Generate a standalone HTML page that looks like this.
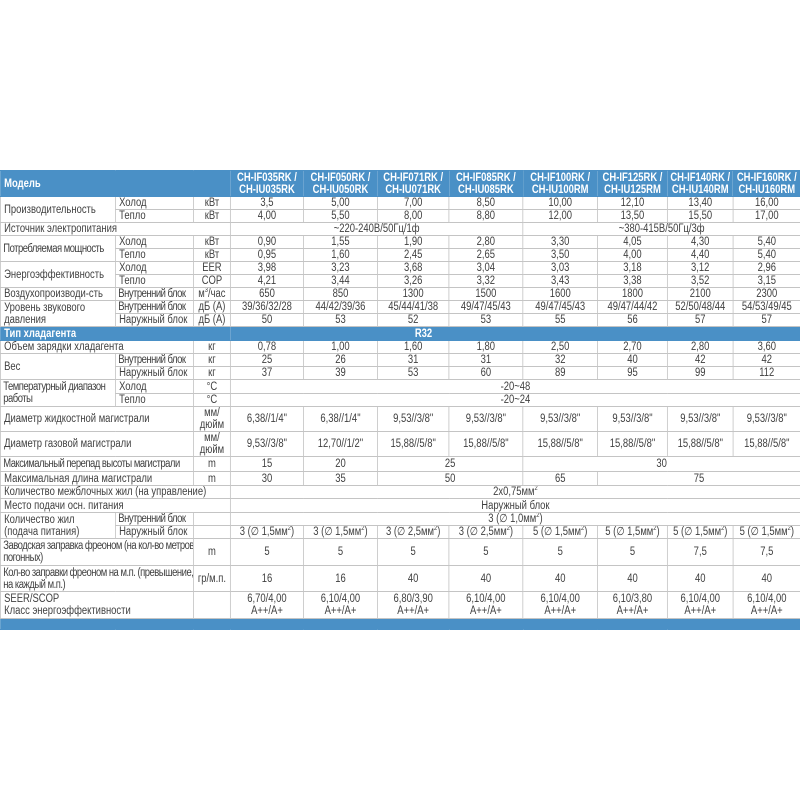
<!DOCTYPE html>
<html><head><meta charset="utf-8"><style>
html,body{margin:0;padding:0;background:#fff;width:800px;height:800px;overflow:hidden}
table{position:absolute;left:0;top:170px;border-collapse:collapse;table-layout:fixed;width:974px;
transform:scaleX(0.8214);transform-origin:0 0;
font-family:"Liberation Sans",sans-serif;font-size:11.5px;color:#404040;line-height:12px}
td{border:1px solid #c4c4c4;padding:0 2px;text-align:center;vertical-align:middle;overflow:hidden;white-space:nowrap}
td.l{text-align:left;padding-left:4px}
td.t{letter-spacing:-0.6px;padding-left:3px}
tr.h td{background:#4a90c6;color:#fff;font-weight:bold;border-color:#4a90c6;line-height:12px}
sup{font-size:7px;line-height:0}
</style></head><body>
<table>
<colgroup><col style="width:140px"><col style="width:95px"><col style="width:45px"><col style="width:89px"><col style="width:90px"><col style="width:87px"><col style="width:90px"><col style="width:91px"><col style="width:85px"><col style="width:80px"><col style="width:82px"></colgroup>
<tr class="h" style="height:26px"><td class="l" colspan="3">Модель</td><td>CH-IF035RK /<br>CH-IU035RK</td><td>CH-IF050RK /<br>CH-IU050RK</td><td>CH-IF071RK /<br>CH-IU071RK</td><td>CH-IF085RK /<br>CH-IU085RK</td><td>CH-IF100RK /<br>CH-IU100RM</td><td>CH-IF125RK /<br>CH-IU125RM</td><td>CH-IF140RK /<br>CH-IU140RM</td><td>CH-IF160RK /<br>CH-IU160RM</td></tr>
<tr style="height:13px"><td class="l" rowspan="2">Производительность</td><td class="l">Холод</td><td>кВт</td><td>3,5</td><td>5,00</td><td>7,00</td><td>8,50</td><td>10,00</td><td>12,10</td><td>13,40</td><td>16,00</td></tr>
<tr style="height:13px"><td class="l">Тепло</td><td>кВт</td><td>4,00</td><td>5,50</td><td>8,00</td><td>8,80</td><td>12,00</td><td>13,50</td><td>15,50</td><td>17,00</td></tr>
<tr style="height:13px"><td class="l" colspan="3">Источник электропитания</td><td colspan="4">~220-240В/50Гц/1ф</td><td colspan="4">~380-415В/50Гц/3ф</td></tr>
<tr style="height:13px"><td class="l t" rowspan="2">Потребляемая мощность</td><td class="l">Холод</td><td>кВт</td><td>0,90</td><td>1,55</td><td>1,90</td><td>2,80</td><td>3,30</td><td>4,05</td><td>4,30</td><td>5,40</td></tr>
<tr style="height:13px"><td class="l">Тепло</td><td>кВт</td><td>0,95</td><td>1,60</td><td>2,45</td><td>2,65</td><td>3,50</td><td>4,00</td><td>4,40</td><td>5,40</td></tr>
<tr style="height:13px"><td class="l" rowspan="2">Энергоэффективность</td><td class="l">Холод</td><td>EER</td><td>3,98</td><td>3,23</td><td>3,68</td><td>3,04</td><td>3,03</td><td>3,18</td><td>3,12</td><td>2,96</td></tr>
<tr style="height:13px"><td class="l">Тепло</td><td>COP</td><td>4,21</td><td>3,44</td><td>3,26</td><td>3,32</td><td>3,43</td><td>3,38</td><td>3,52</td><td>3,15</td></tr>
<tr style="height:13px"><td class="l">Воздухопроизводи-сть</td><td class="l t">Внутренний блок</td><td>м<sup>3</sup>/час</td><td>650</td><td>850</td><td>1300</td><td>1500</td><td>1600</td><td>1800</td><td>2100</td><td>2300</td></tr>
<tr style="height:13px"><td class="l" rowspan="2">Уровень звукового<br>давления</td><td class="l t">Внутренний блок</td><td>дБ (А)</td><td>39/36/32/28</td><td>44/42/39/36</td><td>45/44/41/38</td><td>49/47/45/43</td><td>49/47/45/43</td><td>49/47/44/42</td><td>52/50/48/44</td><td>54/53/49/45</td></tr>
<tr style="height:13px"><td class="l">Наружный блок</td><td>дБ (А)</td><td>50</td><td>53</td><td>52</td><td>53</td><td>55</td><td>56</td><td>57</td><td>57</td></tr>
<tr class="h" style="height:14px"><td class="l" colspan="3">Тип хладагента</td><td colspan="8" style="text-align:left;padding-left:224px">R32</td></tr>
<tr style="height:13px"><td class="l" colspan="2">Объем зарядки хладагента</td><td>кг</td><td>0,78</td><td>1,00</td><td>1,60</td><td>1,80</td><td>2,50</td><td>2,70</td><td>2,80</td><td>3,60</td></tr>
<tr style="height:13px"><td class="l" rowspan="2">Вес</td><td class="l t">Внутренний блок</td><td>кг</td><td>25</td><td>26</td><td>31</td><td>31</td><td>32</td><td>40</td><td>42</td><td>42</td></tr>
<tr style="height:13px"><td class="l">Наружный блок</td><td>кг</td><td>37</td><td>39</td><td>53</td><td>60</td><td>89</td><td>95</td><td>99</td><td>112</td></tr>
<tr style="height:14px"><td class="l t" rowspan="2">Температурный диапазон<br>работы</td><td class="l">Холод</td><td>°C</td><td colspan="8">-20~48</td></tr>
<tr style="height:13px"><td class="l">Тепло</td><td>°C</td><td colspan="8">-20~24</td></tr>
<tr style="height:23px"><td class="l" colspan="2">Диаметр жидкостной магистрали</td><td style="white-space:normal">мм/ дюйм</td><td>6,38//1/4"</td><td>6,38//1/4"</td><td>9,53//3/8"</td><td>9,53//3/8"</td><td>9,53//3/8"</td><td>9,53//3/8"</td><td>9,53//3/8"</td><td>9,53//3/8"</td></tr>
<tr style="height:24px"><td class="l" colspan="2">Диаметр газовой магистрали</td><td style="white-space:normal">мм/ дюйм</td><td>9,53//3/8"</td><td>12,70//1/2"</td><td>15,88//5/8"</td><td>15,88//5/8"</td><td>15,88//5/8"</td><td>15,88//5/8"</td><td>15,88//5/8"</td><td>15,88//5/8"</td></tr>
<tr style="height:15px"><td class="l t" colspan="2">Максимальный перепад высоты магистрали</td><td>m</td><td>15</td><td>20</td><td colspan="2">25</td><td colspan="4">30</td></tr>
<tr style="height:14px"><td class="l" colspan="2">Максимальная длина магистрали</td><td>m</td><td>30</td><td>35</td><td colspan="2">50</td><td>65</td><td colspan="3">75</td></tr>
<tr style="height:13px"><td class="l" colspan="3">Количество межблочных жил (на управление)</td><td colspan="8">2x0,75мм<sup>2</sup></td></tr>
<tr style="height:14px"><td class="l" colspan="3">Место подачи осн. питания</td><td colspan="8">Наружный блок</td></tr>
<tr style="height:13px"><td class="l" rowspan="2">Количество жил<br>(подача питания)</td><td class="l t">Внутренний блок</td><td></td><td colspan="8">3 (∅ 1,0мм<sup>2</sup>)</td></tr>
<tr style="height:13px"><td class="l">Наружный блок</td><td></td><td>3 (∅ 1,5мм<sup>2</sup>)</td><td>3 (∅ 1,5мм<sup>2</sup>)</td><td>3 (∅ 2,5мм<sup>2</sup>)</td><td>3 (∅ 2,5мм<sup>2</sup>)</td><td>5 (∅ 1,5мм<sup>2</sup>)</td><td>5 (∅ 1,5мм<sup>2</sup>)</td><td>5 (∅ 1,5мм<sup>2</sup>)</td><td>5 (∅ 1,5мм<sup>2</sup>)</td></tr>
<tr style="height:27px"><td class="l t" colspan="2">Заводская заправка фреоном (на кол-во метров<br>погонных)</td><td>m</td><td>5</td><td>5</td><td>5</td><td>5</td><td>5</td><td>5</td><td>7,5</td><td>7,5</td></tr>
<tr style="height:26px"><td class="l t" colspan="2">Кол-во заправки фреоном на м.п. (превышение,<br>на каждый м.п.)</td><td>гр/м.п.</td><td>16</td><td>16</td><td>40</td><td>40</td><td>40</td><td>40</td><td>40</td><td>40</td></tr>
<tr style="height:27px"><td class="l" colspan="2">SEER/SCOP<br>Класс энергоэффективности</td><td></td><td>6,70/4,00<br>A++/A+</td><td>6,10/4,00<br>A++/A+</td><td>6,80/3,90<br>A++/A+</td><td>6,10/4,00<br>A++/A+</td><td>6,10/4,00<br>A++/A+</td><td>6,10/3,80<br>A++/A+</td><td>6,10/4,00<br>A++/A+</td><td>6,10/4,00<br>A++/A+</td></tr>
<tr class="h" style="height:11px"><td colspan="11"></td></tr>
</table>
</body></html>
